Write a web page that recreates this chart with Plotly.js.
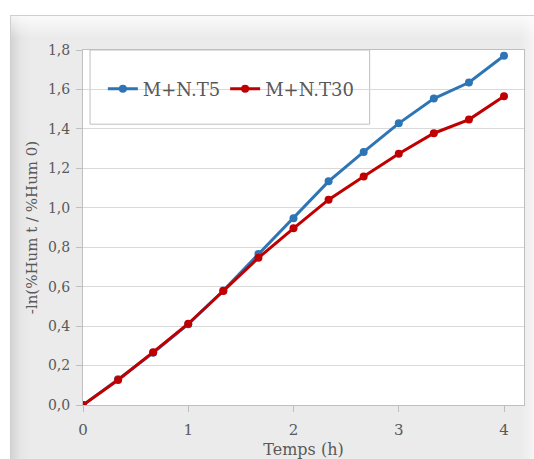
<!DOCTYPE html>
<html>
<head>
<meta charset="utf-8">
<script src="https://cdn.plot.ly/plotly-3.0.1.min.js"></script>
<style>
html,body{margin:0;padding:0;background:#ffffff;}
#chart{position:absolute;left:10px;top:15px;width:524px;height:444px;
  background:
    linear-gradient(to bottom, rgba(255,255,255,0.75) 0px, rgba(255,255,255,0) 22px),
    linear-gradient(to right, #d4d4d4 0px, #e6e6e6 10px, #ebebeb 20px, #ebebeb 510px, #f6f6f6 524px);
  border-top:1px solid #cfcfcf; border-left:1px solid #cfcfcf; box-sizing:border-box;}
</style>
</head>
<body>
<div id="chart"></div>
<script>
// Data
const timeHours = [0, 1/3, 2/3, 1, 4/3, 5/3, 2, 7/3, 8/3, 3, 10/3, 11/3, 4];
const seriesT5 = [0, 0.13, 0.265, 0.41, 0.58, 0.766, 0.947, 1.134, 1.283, 1.428, 1.554, 1.635, 1.771];
const seriesT30 = [0, 0.127, 0.268, 0.412, 0.578, 0.746, 0.896, 1.041, 1.159, 1.274, 1.378, 1.447, 1.566];
const seriesNames = ["M+N.T5", "M+N.T30"];
const xTicks = [0, 1, 2, 3, 4];
const yTicks = [0, 0.2, 0.4, 0.6, 0.8, 1.0, 1.2, 1.4, 1.6, 1.8];

const fontFam = "DejaVu Serif, Liberation Serif, serif";
const textCol = "#595959";

const traces = [
  {x: timeHours, y: seriesT5, name: seriesNames[0], mode: "lines+markers",
   line: {color: "#2e75b6", width: 3}, marker: {color: "#2e75b6", size: 8}},
  {x: timeHours, y: seriesT30, name: seriesNames[1], mode: "lines+markers",
   line: {color: "#c00000", width: 3}, marker: {color: "#c00000", size: 8}}
];

const layout = {
  width: 523, height: 443,
  margin: {l: 72, r: 10, t: 34, b: 54},
  paper_bgcolor: "rgba(0,0,0,0)",
  plot_bgcolor: "#ffffff",
  separators: ",.",
  showlegend: true,
  font: {family: fontFam, color: textCol, size: 14},
  xaxis: {
    range: [0, 4.19], tickvals: xTicks, ticktext: xTicks.map(String),
    showgrid: false, zeroline: false, showline: true, linecolor: "#bfbfbf", linewidth: 1, mirror: true,
    ticks: "outside", ticklen: 6, tickcolor: "#bfbfbf", ticklabelstandoff: 5,
    tickfont: {family: fontFam, size: 15, color: textCol},
    title: {text: "Temps (h)", font: {family: fontFam, size: 16, color: textCol}, standoff: 11}
  },
  yaxis: {
    range: [0, 1.8], tickvals: yTicks, tickformat: ".1f",
    showgrid: true, gridcolor: "#d9d9d9", zeroline: false, showline: true, linecolor: "#bfbfbf", linewidth: 1, mirror: true,
    ticks: "outside", ticklen: 6, tickcolor: "#bfbfbf", ticklabelstandoff: 3,
    tickfont: {family: fontFam, size: 14, color: textCol},
    title: {text: "-ln(%Hum t / %Hum 0)", font: {family: fontFam, size: 15, color: textCol}, standoff: 6}
  },
  legend: {
    orientation: "h", x: 0.045, y: 0.89, xanchor: "left", yanchor: "middle",
    bgcolor: "rgba(0,0,0,0)", borderwidth: 0,
    font: {family: fontFam, size: 18, color: textCol}
  },
  shapes: [
    {type: "rect", xref: "paper", yref: "paper", x0: 0.016, x1: 0.65, y0: 0.791, y1: 1.0,
     line: {color: "#bfbfbf", width: 1}, fillcolor: "#ffffff", layer: "below"}
  ]
};

Plotly.newPlot("chart", traces, layout, {displayModeBar: false, staticPlot: true});
</script>
</body>
</html>
